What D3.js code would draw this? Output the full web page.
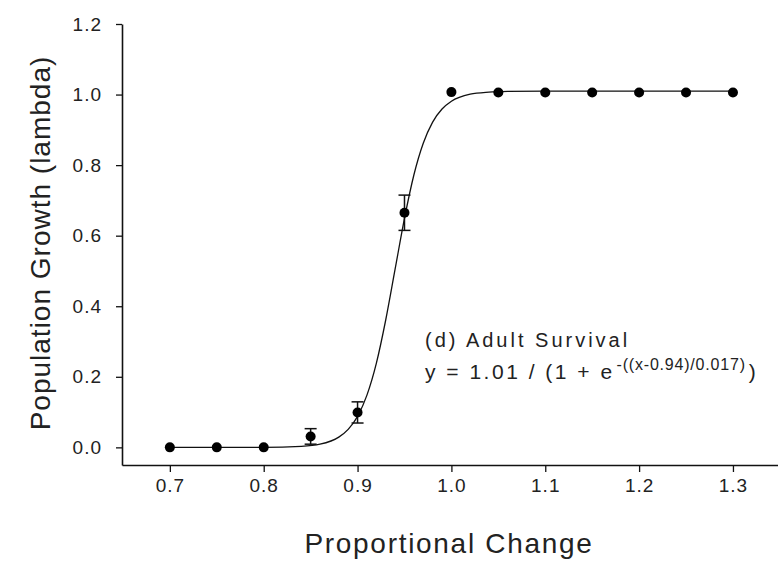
<!DOCTYPE html>
<html>
<head>
<meta charset="utf-8">
<script src="https://cdn.jsdelivr.net/npm/d3@7"></script>
<style>
  html, body { margin: 0; padding: 0; background: #fff; }
  svg { display: block; }
  text { font-family: "Liberation Sans", Arial, sans-serif; fill: #222; }
</style>
</head>
<body>
<svg id="chart" width="778" height="561"></svg>
<script>
// Observed data
const xValues   = [0.70, 0.75, 0.80, 0.85, 0.90, 0.95, 1.00, 1.05, 1.10, 1.15, 1.20, 1.25, 1.30];
const lambda    = [0.000, 0.000, 0.000, 0.031, 0.099, 0.665, 1.007, 1.006, 1.006, 1.006, 1.006, 1.006, 1.006];
const errValues = [0, 0, 0, 0.022, 0.030, 0.050, 0, 0, 0, 0, 0, 0, 0];

// Fitted curve
const curveX = [0.70, 0.80, 0.84, 0.86, 0.88, 0.89, 0.90, 0.91, 0.92, 0.93, 0.94, 0.95, 0.96, 0.97, 0.98, 0.99, 1.00, 1.02, 1.04, 1.06, 1.10, 1.20, 1.30];
const curveY = [0.000, 0.000, 0.003, 0.009, 0.029, 0.051, 0.088, 0.148, 0.238, 0.361, 0.505, 0.649, 0.772, 0.862, 0.922, 0.959, 0.981, 1.001, 1.007, 1.009, 1.010, 1.010, 1.010];

const xTicks = [0.7, 0.8, 0.9, 1.0, 1.1, 1.2, 1.3];
const yTicks = [0.0, 0.2, 0.4, 0.6, 0.8, 1.0, 1.2];

const svg = d3.select("#chart");
const x = d3.scaleLinear().domain([0.649, 1.348]).range([122, 778]);
const y = d3.scaleLinear().domain([-0.05, 1.2]).range([465, 24]);

// Axes
const xAxis = svg.append("g").attr("transform", "translate(0,465)")
  .call(d3.axisBottom(x).tickValues(xTicks).tickFormat(d3.format(".1f")).tickSize(7).tickSizeOuter(0).tickPadding(6));
const yAxis = svg.append("g").attr("transform", "translate(122,0)")
  .call(d3.axisLeft(y).tickValues(yTicks).tickFormat(d3.format(".1f")).tickSize(6).tickSizeOuter(0).tickPadding(14));
[xAxis, yAxis].forEach(g => {
  g.select(".domain").attr("stroke", "#111").attr("stroke-width", 1.6);
  g.selectAll(".tick line").attr("stroke", "#111").attr("stroke-width", 1.3);
  g.selectAll(".tick text").attr("font-size", 19).attr("letter-spacing", 1)
    .attr("fill", "#222").style("font-family", "'Liberation Sans', Arial, sans-serif");
});
xAxis.selectAll(".tick text").attr("dy", "0.75em");

// Axis titles
svg.append("text").attr("x", 449).attr("y", 553).attr("text-anchor", "middle")
  .attr("font-size", 28).attr("letter-spacing", 1.7).text("Proportional Change");
svg.append("text").attr("transform", "translate(50,243) rotate(-90)").attr("text-anchor", "middle")
  .attr("font-size", 28).attr("letter-spacing", 1).text("Population Growth (lambda)");

// Fitted curve
const curveData = curveX.map((d, i) => [d, curveY[i]]);
svg.append("path").datum(curveData)
  .attr("fill", "none").attr("stroke", "#111").attr("stroke-width", 1.3)
  .attr("d", d3.line().x(d => x(d[0])).y(d => y(d[1])).curve(d3.curveMonotoneX));

// Error bars
const pts = xValues.map((d, i) => ({ x: d, y: lambda[i], e: errValues[i] }));
const eb = svg.append("g").selectAll("g").data(pts.filter(d => d.e > 0)).join("g")
  .attr("stroke", "#111").attr("stroke-width", 1.5);
eb.append("line").attr("x1", d => x(d.x)).attr("x2", d => x(d.x))
  .attr("y1", d => y(d.y - d.e)).attr("y2", d => y(d.y + d.e));
eb.append("line").attr("x1", d => x(d.x) - 6).attr("x2", d => x(d.x) + 6)
  .attr("y1", d => y(d.y + d.e)).attr("y2", d => y(d.y + d.e));
eb.append("line").attr("x1", d => x(d.x) - 6).attr("x2", d => x(d.x) + 6)
  .attr("y1", d => y(d.y - d.e)).attr("y2", d => y(d.y - d.e));

// Points
svg.append("g").selectAll("circle").data(pts).join("circle")
  .attr("cx", d => x(d.x)).attr("cy", d => y(d.y)).attr("r", 5).attr("fill", "#000");

// Annotation
svg.append("text").attr("x", 425).attr("y", 347).attr("font-size", 20).attr("letter-spacing", 3)
  .text("(d) Adult Survival");
const eq = svg.append("text").attr("x", 425).attr("y", 379).attr("font-size", 21).attr("letter-spacing", 2.5);
eq.append("tspan").text("y = 1.01 / (1 + e");
eq.append("tspan").attr("dx", 2).attr("font-size", 16).attr("dy", -9).attr("letter-spacing", 0.8).text("-((x-0.94)/0.017)");
eq.append("tspan").attr("dx", 3).attr("dy", 9).text(")");
</script>
</body>
</html>
